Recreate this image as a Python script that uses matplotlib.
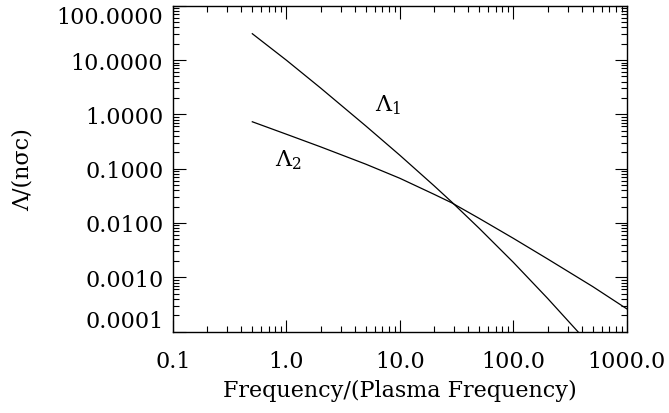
import numpy as np
import matplotlib
matplotlib.use("Agg")
import matplotlib.pyplot as plt
from matplotlib.ticker import FixedLocator, FuncFormatter, LogLocator, NullFormatter

# values
freq = [0.5, 1.0, 2.0, 5.0, 10.0, 20.0, 28.5, 50.0, 100.0, 200.0, 500.0, 1000.0]
lambda1 = [30.5, 9.9, 3.05, 0.612, 0.176, 0.0484, 0.0245, 0.00796, 0.00188, 0.00041, 0.00005, 0.00001]
lambda2 = [0.73, 0.43, 0.252, 0.121, 0.0664, 0.0337, 0.0236, 0.01213, 0.00521, 0.00218, 0.000675, 0.000262]

x_ticks = [0.1, 1.0, 10.0, 100.0, 1000.0]
y_ticks = [0.0001, 0.001, 0.01, 0.1, 1.0, 10.0, 100.0]

plt.rcParams['font.family'] = ['DejaVu Serif']
plt.rcParams['mathtext.fontset'] = 'dejavuserif'

fig = plt.figure(figsize=(6.69, 4.14), dpi=100)
ax = fig.add_axes([0.2586, 0.1966, 0.6784, 0.7872])

ax.plot(freq, lambda1, color='black', lw=0.9)
ax.plot(freq, lambda2, color='black', lw=0.9)

ax.set_xscale('log')
ax.set_yscale('log')
ax.set_xlim(0.1, 1000)
ax.set_ylim(0.0001, 100)

ax.xaxis.set_major_locator(FixedLocator(x_ticks))
ax.yaxis.set_major_locator(FixedLocator(y_ticks))
ax.xaxis.set_minor_locator(LogLocator(base=10, subs=np.arange(2, 10)))
ax.yaxis.set_minor_locator(LogLocator(base=10, subs=np.arange(2, 10)))
ax.xaxis.set_minor_formatter(NullFormatter())
ax.yaxis.set_minor_formatter(NullFormatter())
ax.xaxis.set_major_formatter(FuncFormatter(lambda v, p: f"{v:.1f}"))
ax.yaxis.set_major_formatter(FuncFormatter(lambda v, p: f"{v:.4f}"))

ax.tick_params(which='both', direction='in', top=True, right=True, width=0.8)
ax.tick_params(which='major', length=9)
ax.tick_params(which='minor', length=4.5)
ax.tick_params(axis='x', which='major', labelsize=16, pad=13)
ax.tick_params(axis='y', which='major', labelsize=16, pad=7)
for s in ax.spines.values():
    s.set_linewidth(1.0)

ax.set_xlabel("Frequency/(Plasma Frequency)", fontsize=16, labelpad=5)
ax.set_ylabel("Λ/(nσc)", fontsize=16)
ax.yaxis.set_label_coords(-0.308, 0.5)

ax.text(6.0, 1.55, r"$\Lambda_1$", fontsize=16, va='center', ha='left')
ax.text(0.79, 0.15, r"$\Lambda_2$", fontsize=16, va='center', ha='left')

# keep the end labels inside the axis height, like the original
fig.canvas.draw()
ylabels = ax.get_yticklabels()
ylabels[0].set_va('bottom')
ylabels[-1].set_va('top')

fig.savefig("out.png", dpi=100)
